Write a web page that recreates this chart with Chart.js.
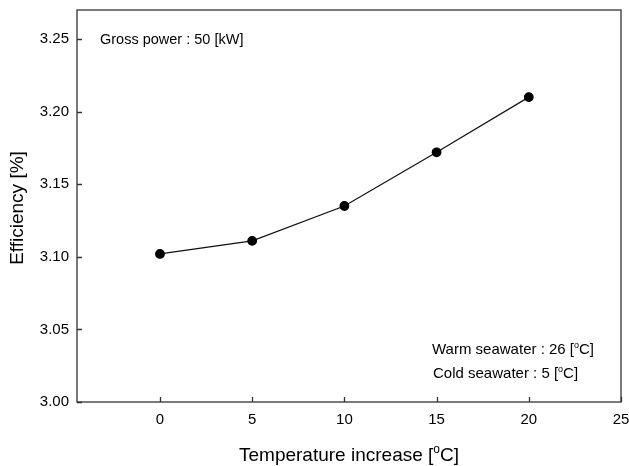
<!DOCTYPE html>
<html>
<head>
<meta charset="utf-8">
<script src="https://cdn.jsdelivr.net/npm/chart.js@4"></script>
<style>
  html, body { margin: 0; padding: 0; background: #fff; }
  #wrap { width: 629px; height: 466px; }
</style>
</head>
<body>
<div id="wrap"><canvas id="chart" width="629" height="466"></canvas></div>
<script>
const tempIncrease = [0, 5, 10, 15, 20];
const efficiency = [3.102, 3.111, 3.135, 3.172, 3.210];
const xTicks = [0, 5, 10, 15, 20, 25];
const yTicks = [3.00, 3.05, 3.10, 3.15, 3.20, 3.25];

const FONT = "'Liberation Sans', Arial, sans-serif";

// text with a superscript "o" for the degree sign, e.g. "[°C]"
function drawDegText(ctx, parts, x, y, size, align) {
  const supSize = Math.round(size * 0.62);
  ctx.font = `${size}px ${FONT}`;
  const w1 = ctx.measureText(parts[0]).width;
  const w3 = ctx.measureText(parts[2]).width;
  ctx.font = `${supSize}px ${FONT}`;
  const w2 = ctx.measureText(parts[1]).width;
  const total = w1 + w2 + w3;
  const x0 = align === "center" ? x - total / 2 : x;
  ctx.textAlign = "left";
  ctx.textBaseline = "alphabetic";
  ctx.font = `${size}px ${FONT}`;
  ctx.fillText(parts[0], x0, y);
  ctx.font = `${supSize}px ${FONT}`;
  ctx.fillText(parts[1], x0 + w1, y - size * 0.4);
  ctx.font = `${size}px ${FONT}`;
  ctx.fillText(parts[2], x0 + w1 + w2, y);
}

const decor = {
  id: "decor",
  afterDraw(chart) {
    const { ctx, chartArea: a, scales: { x, y } } = chart;
    ctx.save();
    ctx.strokeStyle = "#333";
    ctx.lineWidth = 1.3;
    ctx.strokeRect(a.left, a.top, a.right - a.left, a.bottom - a.top);
    // inward ticks
    ctx.beginPath();
    xTicks.forEach(v => {
      const px = Math.round(x.getPixelForValue(v)) + 0.5;
      ctx.moveTo(px, a.bottom);
      ctx.lineTo(px, a.bottom - 5);
    });
    yTicks.forEach(v => {
      const py = Math.round(y.getPixelForValue(v)) + 0.5;
      ctx.moveTo(a.left, py);
      ctx.lineTo(a.left + 5, py);
    });
    ctx.stroke();

    ctx.fillStyle = "#000";
    ctx.font = `14.5px ${FONT}`;
    ctx.textAlign = "left";
    ctx.textBaseline = "alphabetic";
    ctx.fillText("Gross power : 50 [kW]", 100, 44);
    drawDegText(ctx, ["Warm seawater : 26 [", "o", "C]"], 432, 354, 15, "left");
    drawDegText(ctx, ["Cold seawater : 5 [", "o", "C]"], 433, 378, 15, "left");

    // axis titles
    drawDegText(ctx, ["Temperature increase [", "o", "C]"], 349, 461, 19, "center");
    ctx.save();
    ctx.translate(23, 208);
    ctx.rotate(-Math.PI / 2);
    ctx.font = `19px ${FONT}`;
    ctx.textAlign = "center";
    ctx.textBaseline = "alphabetic";
    ctx.fillText("Efficiency [%]", 0, 0);
    ctx.restore();
    ctx.restore();
  }
};

new Chart(document.getElementById("chart"), {
  type: "scatter",
  data: {
    datasets: [{
      data: tempIncrease.map((t, i) => ({ x: t, y: efficiency[i] })),
      showLine: true,
      borderColor: "#111",
      borderWidth: 1.2,
      backgroundColor: "#000",
      pointBackgroundColor: "#000",
      pointBorderColor: "#000",
      pointRadius: 4.3,
      pointHoverRadius: 4.3,
    }]
  },
  options: {
    responsive: false,
    animation: false,
    events: [],
    layout: { padding: { top: 10, right: 8, left: 0, bottom: 0 } },
    plugins: { legend: { display: false }, tooltip: { enabled: false } },
    scales: {
      x: {
        type: "linear",
        min: -4.5,
        max: 25,
        afterBuildTicks: s => { s.ticks = xTicks.map(v => ({ value: v })); },
        afterFit: s => { s.height = 64; s.paddingLeft = 0; s.paddingRight = 0; },
        grid: { display: false, drawTicks: false },
        border: { display: false },
        ticks: { color: "#000", font: { family: FONT, size: 15 }, padding: 9, maxRotation: 0 },
      },
      y: {
        min: 3.0,
        max: 3.27,
        afterBuildTicks: s => { s.ticks = yTicks.map(v => ({ value: v })); },
        afterFit: s => { s.width = 77; s.paddingTop = 0; s.paddingBottom = 0; },
        grid: { display: false, drawTicks: false },
        border: { display: false },
        ticks: { color: "#000", font: { family: FONT, size: 15 }, padding: 8, callback: v => v.toFixed(2) },
      }
    }
  },
  plugins: [decor]
});
</script>
</body>
</html>
